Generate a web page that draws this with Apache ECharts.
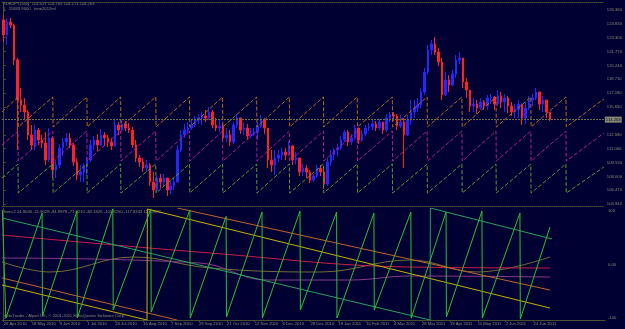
<!DOCTYPE html>
<html>
<head>
<meta charset="utf-8">
<script src="https://cdn.jsdelivr.net/npm/echarts@6/dist/echarts.min.js"></script>
<style>
html, body { margin: 0; padding: 0; background: #000033; }
#chart { width: 625px; height: 329px; }
</style>
</head>
<body>
<div id="chart"></div>
<script>
var firstOpen = 125.26;
var closes = [123.60,125.03,124.70,120.84,116.43,115.87,115.10,112.56,111.46,113.11,
112.01,111.68,109.80,112.23,108.70,109.25,111.13,111.79,112.23,111.46,
109.58,108.15,108.48,109.14,109.80,111.46,112.01,111.46,112.56,112.23,
111.79,111.35,113.67,113.11,113.78,113.33,113.11,111.46,110.02,109.58,
108.92,109.25,107.37,106.49,107.82,107.37,107.82,106.49,106.93,107.37,
110.91,112.56,113.11,113.33,113.67,114.22,114.44,114.66,114.44,115.10,
113.67,113.33,113.56,112.23,112.56,111.79,113.67,114.44,113.11,113.33,
112.45,112.67,112.89,113.56,114.22,113.33,109.80,109.25,110.02,110.35,
110.69,110.35,111.35,109.80,110.02,108.48,108.92,108.48,107.59,108.04,
108.92,108.48,107.15,109.58,110.35,110.91,111.13,112.01,112.89,111.79,
112.23,113.33,112.01,112.67,113.33,113.45,113.78,113.33,113.99,113.11,
114.44,114.77,114.66,113.56,113.99,112.56,114.22,115.10,115.54,115.87,
117.31,119.52,121.94,122.61,121.72,120.62,116.98,118.63,118.08,119.29,
120.84,121.06,118.41,117.53,115.76,115.98,115.54,116.20,115.76,116.65,
116.76,115.98,116.87,116.20,116.65,115.76,115.10,115.32,115.98,114.44,
115.54,116.43,116.65,117.31,115.98,116.43,115.10,114.26];
var highs = [125.81,125.48,125.48,124.81,121.06,117.75,116.65,115.32,113.67,113.67,
113.33,112.56,112.89,113.33,112.45,109.80,111.57,112.23,112.78,112.78,
111.68,110.02,109.25,109.47,110.13,112.01,112.45,112.67,113.22,112.89,
112.56,112.23,114.22,113.99,114.22,114.11,113.89,113.45,112.01,110.35,
110.02,109.80,109.47,108.48,108.15,108.26,108.26,107.82,107.59,107.82,
111.46,113.11,113.78,113.99,114.33,114.66,114.88,115.10,115.32,115.65,
115.32,114.44,114.22,113.78,113.33,113.11,113.99,114.88,114.44,113.99,
113.78,113.33,113.33,113.99,114.77,114.44,113.11,110.91,110.91,110.91,
111.13,111.13,111.90,111.46,110.69,110.02,109.36,109.25,108.70,108.26,
109.25,109.25,108.70,110.02,110.91,111.13,111.57,112.45,113.11,113.11,
112.67,113.67,113.33,113.11,113.67,113.89,114.22,114.11,114.33,113.99,
114.88,115.10,115.10,114.88,114.77,114.44,114.77,116.43,116.43,116.65,
117.75,119.96,122.50,123.05,123.38,122.16,121.06,119.52,119.18,119.74,
121.39,121.72,121.06,118.85,117.53,116.65,116.43,116.65,116.43,116.98,
117.09,116.87,117.53,117.31,117.09,116.87,116.20,115.98,116.43,115.98,
116.20,116.87,117.09,117.75,117.31,116.87,116.43,115.10];
var lows = [122.83,122.50,124.37,120.29,110.91,115.10,114.22,112.01,110.91,110.91,
111.46,111.13,109.25,109.58,107.82,107.82,108.92,110.24,111.35,111.13,
109.14,107.59,107.37,107.37,108.04,109.58,110.91,110.79,111.35,111.35,
111.24,110.91,111.24,112.56,112.89,113.00,112.78,111.13,109.58,109.03,
108.48,108.48,106.93,105.61,106.27,106.71,106.93,105.83,106.05,106.49,
107.37,110.69,112.23,112.67,113.11,113.45,113.78,113.67,113.99,114.22,
113.33,113.00,112.89,111.90,111.79,111.35,111.57,113.33,112.67,112.56,
112.01,112.23,112.45,112.01,113.33,112.67,108.92,108.48,108.15,109.58,
109.80,109.80,110.24,109.25,109.36,108.04,108.04,107.82,107.26,107.37,
107.82,108.04,106.60,106.93,109.14,109.80,110.24,110.91,111.79,111.35,
111.46,112.01,111.57,111.79,112.45,113.00,113.11,113.00,113.11,112.67,
112.89,113.99,114.11,113.11,113.33,108.92,112.45,113.67,114.44,115.10,
115.54,116.98,119.29,121.39,121.39,120.18,116.43,116.87,117.31,117.97,
118.85,120.40,117.75,116.65,115.10,115.10,114.88,115.32,115.32,115.32,
115.98,115.32,115.76,115.54,115.10,114.99,114.66,114.44,114.44,113.67,
113.78,115.32,115.76,116.43,115.32,115.10,114.44,114.11];
var slotCount = 173; // candles plus the empty shift on the right
var lastPrice = 114.263;

var priceTicks = [126.36, 124.83, 123.30, 121.77, 120.24, 118.71, 117.18, 115.65,
                  112.59, 111.06, 109.53, 108.00, 106.47, 104.94];
var oscTicks = [100, 0, -100];
var dateSlots = [0, 8, 16, 24, 32, 40, 48, 56, 64, 72, 80, 88, 96, 104, 112, 120, 128, 136, 144, 152];
var dateLabels = ['26 Apr 2010', '18 May 2010', '9 Jun 2010', '1 Jul 2010', '23 Jul 2010',
  '16 Aug 2010', '7 Sep 2010', '29 Sep 2010', '21 Oct 2010', '12 Nov 2010', '6 Dec 2010',
  '28 Dec 2010', '19 Jan 2011', '10 Feb 2011', '4 Mar 2011', '28 Mar 2011', '19 Apr 2011',
  '11 May 2011', '2 Jun 2011', '24 Jun 2011'];

// dashed sawtooth bands: reset slots and levels (orange, magenta, green)
var sawDrops = [4.1, 14.1, 23.9, 33.6, 43.7, 53.4, 62.9, 72.7, 82.1, 91.9, 101.6,
                111.7, 121.7, 131.7, 141.5, 151.5, 161.6];
var sawTops = [116.76, 113.00, 109.36];
var sawBottoms = [113.45, 109.69, 106.16];
var sawStarts = [115.10, 111.46, 107.82];
var sawEnds = [116.54, 112.78, 109.03];

// lower window
var sonicSaw = [[-0.4,102],[0.6,-100],[11.0,96],[11.1,-96],[21.0,100],[21.1,-100],
  [31.3,104],[31.4,-85],[42.2,104],[42.3,-89],[53.4,102],[53.5,-100],[63.8,90],[63.9,-98],
  [74.1,98],[74.2,-100],[85.0,100],[85.1,-85],[95.5,98],[95.6,-100],[106.2,96],[106.3,-85],
  [116.8,98],[116.9,-100],[126.9,98],[127.0,-98],[137.2,100],[137.3,-100],[148.1,96],
  [148.2,-102],[156.7,70]];
var greenChannel = [[-0.5,86.9],[122.3,-103.7],[122.4,105.6],[157.3,47.7]];
var yellowChannel = [[-0.5,-38.3],[41.1,-103.7],[41.2,103.7],[156.7,-81.3]];
var orangeChannel = [[-0.5,-25.2],[49.7,-103.7],null,[49.8,105.6],[156.7,-47.7]];
var redLine = [[-0.5,55.1],[59.2,21.5],[116.5,-4.7],[156.7,-6.5]];
var brownLine = [[-0.5,4.7],[13.3,-14.0],[37.1,14.0],[59.2,-6.5],[90.7,-14.0],
  [116.5,8.4],[135.8,-14.0],[156.7,14.0]];
var purpleLine = [[-0.5,12.1],[56.3,2.8],[75.5,-29.0],[99.3,-29.0],[116.5,-21.5],[156.7,-23.4]];

var candles = [];
var prev = firstOpen;
for (var i = 0; i < closes.length; i++) {
    var o = prev, c = closes[i];
    candles.push([o, c, Math.min(lows[i], o, c), Math.max(highs[i], o, c)]);
    prev = c;
}
var slots = [];
for (var s = 0; s < slotCount; s++) slots.push(String(s));

function sawPoints(k) {
    var pts = [[-0.5, sawStarts[k]]];
    sawDrops.forEach(function (d) {
        pts.push([d, sawTops[k]]);
        pts.push([d + 0.08, sawBottoms[k]]);
    });
    pts.push([slotCount - 0.5, sawEnds[k]]);
    return pts;
}

var axisCol = '#4e4e30';
var textCol = '#8a8a72';
var font = 'Liberation Sans';

function sawSeries(k, color) {
    return {
        type: 'line', xAxisIndex: 1, yAxisIndex: 0, data: sawPoints(k),
        showSymbol: false, silent: true,
        lineStyle: { color: color, width: 1, type: [4, 2] }
    };
}
function oscSeries(data, color, smooth) {
    return {
        type: 'line', xAxisIndex: 2, yAxisIndex: 1, data: data,
        showSymbol: false, silent: true, smooth: smooth || false, connectNulls: false,
        lineStyle: { color: color, width: 1 }
    };
}

var myChart = echarts.init(document.getElementById('chart'));
var option = {
    backgroundColor: '#000033',
    animation: false,
    grid: [
        { left: 2, right: 20, top: 2, height: 204 },
        { left: 2, right: 20, top: 208, height: 112 }
    ],
    xAxis: [
        {
            type: 'category', gridIndex: 0, data: slots, position: 'top', boundaryGap: true,
            axisLine: { lineStyle: { color: axisCol, type: 'dotted' } },
            axisTick: { show: false }, axisLabel: { show: false }, splitLine: { show: false }
        },
        {
            type: 'value', gridIndex: 0, min: -0.5, max: slotCount - 0.5, position: 'bottom',
            axisLine: { onZero: false, lineStyle: { color: axisCol, type: 'dotted' } },
            axisTick: { show: false }, axisLabel: { show: false }, splitLine: { show: false }
        },
        {
            type: 'value', gridIndex: 1, min: -0.5, max: slotCount - 0.5, position: 'bottom',
            axisLine: { onZero: false, lineStyle: { color: axisCol } },
            axisTick: { show: true, customValues: dateSlots, length: 2, lineStyle: { color: axisCol } },
            axisLabel: {
                customValues: dateSlots, align: 'left', margin: 2,
                color: textCol, fontSize: 4.2, fontFamily: font,
                formatter: function (v) {
                    var k = dateSlots.indexOf(Math.round(v));
                    return k < 0 ? '' : dateLabels[k];
                }
            },
            splitLine: { show: false }
        }
    ],
    yAxis: [
        {
            type: 'value', gridIndex: 0, position: 'right', min: 104.73, max: 127.24,
            axisLine: { show: true, lineStyle: { color: axisCol } },
            axisTick: { show: true, customValues: priceTicks, length: 2, lineStyle: { color: axisCol } },
            axisLabel: {
                customValues: priceTicks, margin: 3, color: textCol, fontSize: 4.2, fontFamily: font,
                formatter: function (v) { return v.toFixed(3); }
            },
            splitLine: { show: false }
        },
        {
            type: 'value', gridIndex: 1, position: 'right', min: -103.7, max: 105.6,
            axisLine: { show: true, lineStyle: { color: axisCol } },
            axisTick: { show: true, customValues: oscTicks, length: 2, lineStyle: { color: axisCol } },
            axisLabel: {
                customValues: oscTicks, margin: 3, color: textCol, fontSize: 4.2, fontFamily: font,
                formatter: function (v) { return v === 0 ? '0.00' : String(v); }
            },
            splitLine: { show: false }
        }
    ],
    graphic: [
        { type: 'text', left: 3, top: 2, silent: true,
          style: { text: 'EURJPY,Daily  114.521 114.782 114.171 114.263', fill: textCol, font: '4.2px "Liberation Sans"' } },
        { type: 'text', left: 3, top: 7, silent: true,
          style: { text: '0   11843.9000   time2012ml', fill: textCol, font: '4.2px "Liberation Sans"' } },
        { type: 'text', left: 3, top: 210, silent: true,
          style: { text: 'Sonic2 24.9040 -11.8028 -94.9878 -71.8210 -82.1826 -101.8250 -117.8332 125.9822', fill: textCol, font: '4.2px "Liberation Sans"' } },
        { type: 'text', left: 3, top: 314, silent: true,
          style: { text: 'MetaTrader - Alpari UK, \u00a9 2001-2011 MetaQuotes Software Corp.', fill: textCol, font: '4.2px "Liberation Sans"' } }
    ],
    series: [
        sawSeries(0, '#b86a1c'),
        sawSeries(1, '#b0208a'),
        sawSeries(2, '#5a9a32'),
        {
            type: 'candlestick', xAxisIndex: 0, yAxisIndex: 0, data: candles,
            barWidth: 2, silent: true,
            itemStyle: {
                color: '#2626ff', color0: '#ff2222',
                borderColor: '#2626ff', borderColor0: '#ff2222', borderWidth: 1
            },
            markLine: {
                symbol: 'none', silent: true, animation: false,
                data: [{ yAxis: lastPrice }],
                lineStyle: { color: '#6e6e50', width: 1, type: [2, 1] },
                label: {
                    position: 'end', distance: 1, formatter: lastPrice.toFixed(3),
                    color: '#000033', backgroundColor: '#8a8a72', fontSize: 4.2, fontFamily: font,
                    padding: [1, 1]
                }
            }
        },
        oscSeries(brownLine, '#7a6a3a', 0.4),
        oscSeries(purpleLine, '#8a3a8a', 0.4),
        oscSeries(redLine, '#c8204a', 0.4),
        oscSeries(orangeChannel, '#c0642a'),
        oscSeries(yellowChannel, '#c8b000'),
        oscSeries(greenChannel, '#2aa060'),
        oscSeries(sonicSaw, '#2fc02f')
    ]
};
myChart.setOption(option);
</script>
</body>
</html>
